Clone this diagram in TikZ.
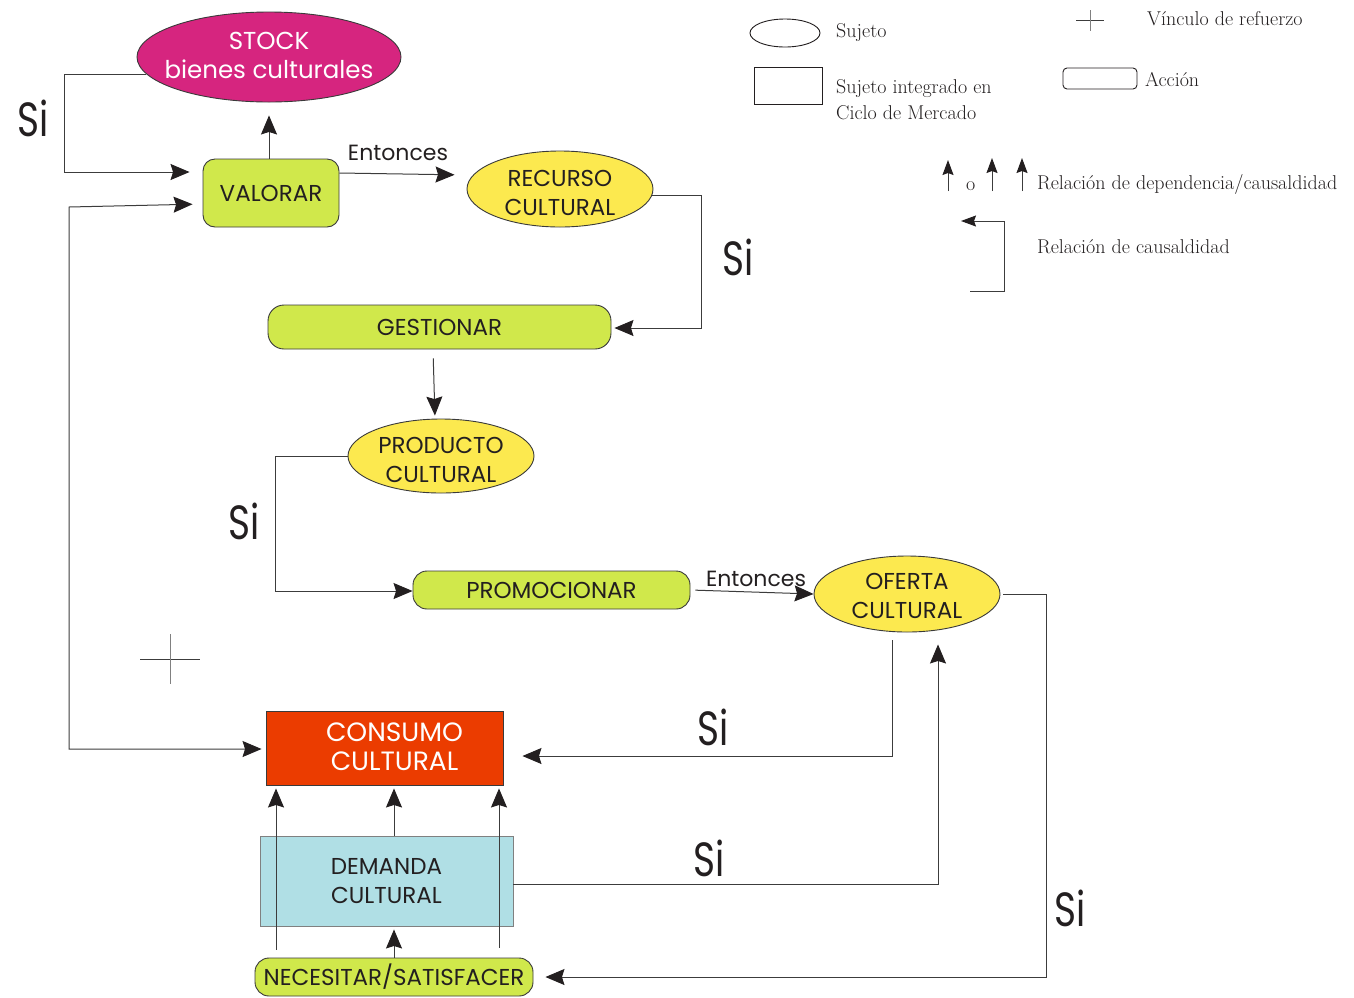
\documentclass[tikz,border=0pt]{standalone}
\usepackage{fontspec}
\usetikzlibrary{shapes.geometric,arrows.meta}
\newfontfamily\pop{Poppins}
\newfontfamily\sifont[FakeStretch=0.78]{Poppins}
\definecolor{stockc}{HTML}{D6257F}
\definecolor{actc}{HTML}{D0E84B}
\definecolor{yelc}{HTML}{FCE94F}
\definecolor{consc}{HTML}{EB3C00}
\definecolor{demc}{HTML}{B0DFE5}
\definecolor{ink}{HTML}{231F20}
\definecolor{edge}{HTML}{3A3A3A}
\definecolor{linec}{HTML}{3C3C3C}
\tikzset{
  txt/.style={font=\pop\fontsize{23}{29}\selectfont, text=ink, align=center, inner sep=0pt},
  ell/.style={ellipse, draw=edge, line width=0.9pt, inner sep=0pt},
  act/.style={txt, rectangle, rounded corners=12pt, draw=edge, line width=0.9pt, fill=actc},
  subj/.style={txt, rectangle, draw=edge, line width=0.9pt},
  conn/.style={draw=linec, line width=1pt},
  tip/.tip={Stealth[length=19pt,width=16pt,inset=2.5pt,color=ink,fill=ink]},
  arr/.style={conn, -tip},
  darr/.style={conn, tip-tip},
  larr/.style={conn, -{Stealth[length=15pt,width=11pt,inset=2pt,color=ink,fill=ink]}},
  silbl/.style={font=\sifont\fontsize{48}{48}\selectfont, text=ink, inner sep=0pt},
  entlbl/.style={font=\pop\fontsize{22}{26}\selectfont, text=ink, inner sep=0pt},
  leg/.style={font=\fontsize{20}{26}\selectfont, text=ink, inner sep=0pt, anchor=west, align=left}
}
\begin{document}
\begin{tikzpicture}[x=1pt,y=-1pt]
\useasboundingbox (0,0) rectangle (1354,997);
\fill[white] (0,0) rectangle (1354,997);

% main nodes
\node[ell, fill=stockc, minimum width=264pt, minimum height=90pt,
      label={[txt, text=white, font=\pop\fontsize{24.5}{29}\selectfont, yshift=2pt]center:{STOCK\\bienes culturales}}] (stock) at (269,57) {};
\node[act, minimum width=136pt, minimum height=68pt] (valorar) at (271,193) {VALORAR};
\node[ell, fill=yelc, minimum width=186pt, minimum height=76pt,
      label={[txt, yshift=-4pt]center:{RECURSO\\CULTURAL}}] (recurso) at (560,189) {};
\node[act, rounded corners=16pt, minimum width=343pt, minimum height=44pt] (gestionar) at (439.5,327) {GESTIONAR};
\node[ell, fill=yelc, minimum width=186pt, minimum height=74pt,
      label={[txt, yshift=-4pt]center:{PRODUCTO\\CULTURAL}}] (producto) at (441,456) {};
\node[act, rounded corners=14pt, minimum width=277pt, minimum height=38pt] (promocionar) at (551.5,590) {PROMOCIONAR};
\node[ell, fill=yelc, minimum width=186pt, minimum height=76pt,
      label={[txt, yshift=-2pt]center:{OFERTA\\CULTURAL}}] (oferta) at (907,594) {};
\node[subj, fill=consc, minimum width=237pt, minimum height=74pt,
      label={[txt, text=white, font=\pop\fontsize{26.5}{29}\selectfont, xshift=10pt, yshift=1pt]center:{CONSUMO\\CULTURAL}}] (consumo) at (384.5,748) {};
\node[subj, fill=demc, draw=gray, minimum width=253pt, minimum height=90pt] (demanda) at (386.5,881) {DEMANDA\\CULTURAL};
\node[act, rounded corners=14pt, minimum width=278pt, minimum height=38pt] (necesitar) at (394,977) {NECESITAR/SATISFACER};

% connectors
\draw[arr, shorten >=13pt] (valorar.north -| 269,0) -- (stock.south);
\draw[arr, shorten >=13pt] (stock.188) -| (64,172) -- (valorar.west |- 64,172);
\draw[darr, shorten <=10pt, shorten >=4pt] (valorar.west |- 0,204) -- (69,207) -- (69,749) -- (consumo.west |- 0,749);
\draw[arr, shorten >=12pt] (valorar.east |- 0,173) -- (recurso.west |- 0,175);
\draw[arr, shorten >=3pt] (recurso.-4) -| (701,328) -- (gestionar.east |- 0,328);
\draw[arr, shorten <=9pt, shorten >=3pt] (gestionar.south -| 433,0) -- (producto.north -| 435,0);
\draw[arr] (producto.west) -| (275,591) -- (promocionar.west |- 0,591);
\draw[arr, shorten <=5pt] (promocionar.east) -- (oferta.west);
\draw[arr, shorten <=8pt, shorten >=19pt] (oferta.south -| 892,0) -- (892,756) -- (consumo.east |- 0,756);
\draw[arr, shorten >=12pt] (demanda.east |- 0,884) -| (oferta.south -| 938,0);
\draw[arr, shorten <=3pt, shorten >=12pt] (oferta.east) -| (1046,977) -- (necesitar.east |- 0,977);
\draw[arr, shorten >=3pt] (demanda.north -| 394,0) -- (consumo.south -| 394,0);
\draw[arr, shorten >=3pt] (necesitar.north -| 394,0) -- (demanda.south -| 394,0);
\draw[arr, shorten <=8pt, shorten >=3pt] (necesitar.north -| 276,0) -- (consumo.south -| 276,0);
\draw[arr, shorten <=10pt, shorten >=3pt] (necesitar.north -| 499,0) -- (consumo.south -| 499,0);

% labels
\node[silbl] (si1) at (33,118) {Si};
\node[silbl] (si2) at (738,257) {Si};
\node[silbl] (si3) at (244,521) {Si};
\node[silbl] (si4) at (713,727) {Si};
\node[silbl] (si5) at (709,858) {Si};
\node[silbl] (si6) at (1070,908) {Si};
\node[entlbl] (ent1) at (398,153) {Entonces};
\node[entlbl] (ent2) at (756,579) {Entonces};

% reinforcement cross
\draw[conn] (140,659) -- (200,659);
\draw[conn, draw=gray] (170,634) -- (170,684);

% legend
\node[ellipse, draw=ink, line width=0.9pt, minimum width=70pt, minimum height=28pt, inner sep=0pt] (lsuj) at (785,33) {};
\node[leg] (tsuj) at (836,33) {Sujeto};
\node[rectangle, draw=ink, line width=0.9pt, minimum width=68pt, minimum height=37pt, inner sep=0pt] (lrect) at (788,85.5) {};
\node[leg] (trect) at (836,100) {Sujeto integrado en\\Ciclo de Mercado};
\draw[conn] (1076,20) -- (1104,20);
\draw[conn, draw=gray] (1090,10) -- (1090,31);
\node[leg] (tvin) at (1147,19) {Vínculo de refuerzo};
\node[rectangle, rounded corners=4pt, draw=ink, line width=0.9pt, minimum width=74pt, minimum height=21pt, inner sep=0pt] (lacc) at (1100,78.5) {};
\node[leg] (tacc) at (1145,80) {Acción};
\coordinate (la1s) at (948,191);
\coordinate (la1e) at (948,160);
\draw[larr] (la1s) -- (la1e);
\node[leg] (to) at (966,186) {o};
\coordinate (la2s) at (992,191);
\coordinate (la2e) at (992,158);
\draw[larr] (la2s) -- (la2e);
\coordinate (la3s) at (1022,191);
\coordinate (la3e) at (1022,158);
\draw[larr] (la3s) -- (la3e);
\node[leg] (tdep) at (1037,184) {Relación de dependencia/causaldidad};
\coordinate (lcs) at (970,291);
\coordinate (lce) at (961,221);
\draw[larr] (lcs) -- (1004,291) -- (1004,221) -- (lce);
\node[leg] (tcau) at (1037,247) {Relación de causaldidad};
\end{tikzpicture}
\end{document}
